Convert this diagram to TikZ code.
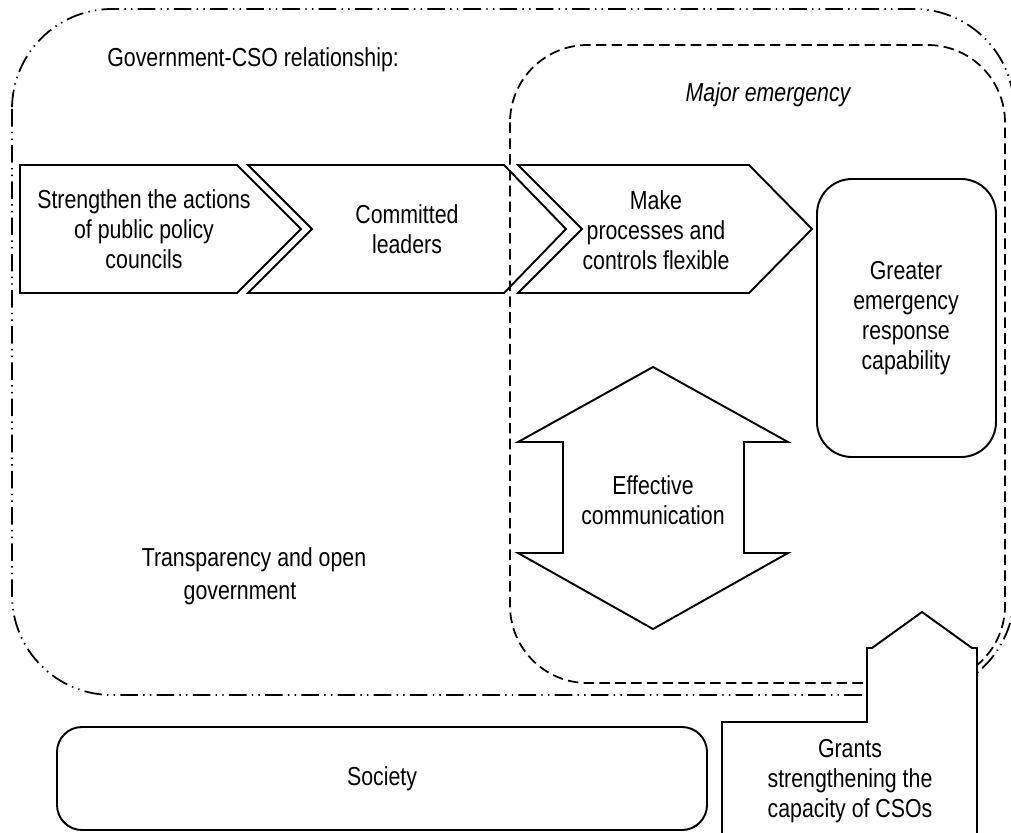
\documentclass[tikz,border=0pt]{standalone}
\usepackage{fontspec}
\setmainfont{Liberation Sans}[FakeStretch=0.82]
\usetikzlibrary{positioning}

\begin{document}
\begin{tikzpicture}[
  x=0.02cm, y=-0.02cm,
  every node/.style={font=\fontsize{14.8pt}{17.2pt}\selectfont, align=center, inner sep=0pt},
  shapeline/.style={draw, line width=1.1pt, line join=miter},
  outerframe/.style={draw, line width=1pt, rounded corners=2cm,
    dash pattern=on 10pt off 3pt on 0.8pt off 3pt on 0.8pt off 3pt},
  innerframe/.style={draw, line width=1pt, rounded corners=1.55cm, dash pattern=on 6pt off 3pt},
  roundbox/.style={draw, line width=1.1pt, rounded corners=0.7cm}
]
\useasboundingbox (0,0) rectangle (1011,832);

% frames
\draw[outerframe] (12,9) rectangle (1014,695);
\draw[innerframe] (510,45) rectangle (1005,683);
\node[anchor=base west] (relationship) at (107,66) {Government-CSO relationship:};
\node[anchor=base, font=\fontsize{14.8pt}{17.2pt}\selectfont\itshape] (emergency) at (768,101) {Major emergency};

% chevrons
\draw[shapeline] (20,165) -- (237,165) -- (301,229) -- (237,293) -- (20,293) -- cycle;
\draw[shapeline] (248,165) -- (504,165) -- (566,229) -- (504,293) -- (248,293) -- (312,229) -- cycle;
\draw[shapeline] (518,165) -- (749,165) -- (812,229) -- (749,293) -- (518,293) -- (582,229) -- cycle;
\node (strengthen) at (144,229) {Strengthen the actions\\of public policy\\councils};
\node (leaders) at (407,229) {Committed\\leaders};
\node (flexible) at (656,230) {Make\\processes and\\controls flexible};

\draw[roundbox] (817,179) rectangle (996,457);
\node (capability) at (906,318) {Greater\\emergency\\response\\capability};

% double arrow
\draw[shapeline] (653,367) -- (788,442) -- (744,442) -- (744,553) -- (788,553) -- (653,629)
  -- (518,553) -- (563,553) -- (563,442) -- (518,442) -- cycle;
\node (communication) at (653,500) {Effective\\communication};

\node (transparency) at (254,576) {Transparency and open\\[1.4pt]government\hspace*{16pt}};

\draw[roundbox, rounded corners=0.5cm] (57,727) rectangle (707,830);
\node (society) at (382,779) {Society};

\draw[shapeline, fill=white] (722,834) -- (722,722) -- (867,722) -- (867,648) -- (872,648) -- (922,612)
  -- (972,648) -- (977,648) -- (977,834) -- cycle;
\node (grants) at (850,781) {Grants\\strengthening the\\capacity of CSOs};
\end{tikzpicture}
\end{document}
